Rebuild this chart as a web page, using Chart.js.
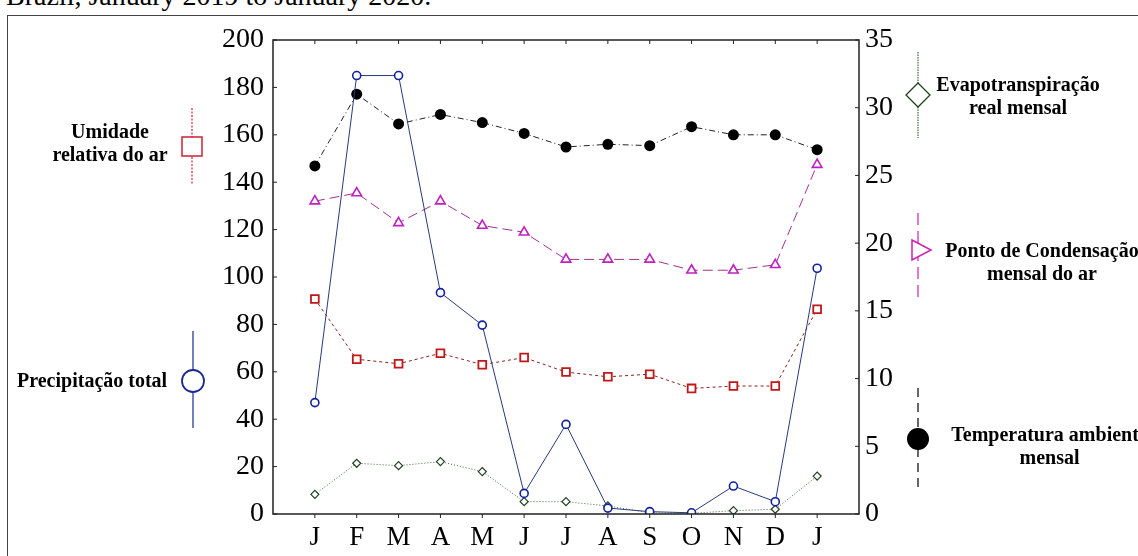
<!DOCTYPE html>
<html>
<head>
<meta charset="utf-8">
<script src="https://cdn.jsdelivr.net/npm/chart.js@4"></script>
<style>
  body { margin: 0; background: #fff; overflow: hidden; }
  #wrap { position: relative; width: 1138px; height: 556px; overflow: hidden; }
  #frame { position: absolute; left: 7px; top: 15px; width: 1200px; height: 600px; border: 1.5px solid #444; box-sizing: border-box; }
  #title { position: absolute; left: 6px; top: -20px; font: 28px "Liberation Serif", serif; color: #000; white-space: nowrap; }
  .leg { position: absolute; font: bold 20px "Liberation Serif", serif; color: #000; text-align: center; line-height: 23px; white-space: nowrap; }
  canvas { position: absolute; left: 0; top: 0; }
</style>
</head>
<body>
<div id="wrap">
  <div id="title">Brazil, January 2019 to January 2020.</div>
  <div id="frame"></div>
  <canvas id="grafico" width="1138" height="556"></canvas>
  <div class="leg" style="left:45px; top:120px; width:130px;">Umidade<br>relativa do ar</div>
  <div class="leg" style="left:17px; top:369px;">Precipitação total</div>
  <div class="leg" style="left:933px; top:73px; width:170px;">Evapotranspiração<br>real mensal</div>
  <div class="leg" style="left:937px; top:239px; width:210px;">Ponto de Condensação<br>mensal do ar</div>
  <div class="leg" style="left:937px; top:423px; width:225px;">Temperatura ambiente<br>mensal</div>
</div>
<script>
const meses = ['J', 'F', 'M', 'A', 'M', 'J', 'J', 'A', 'S', 'O', 'N', 'D', 'J'];
const precipitacao = [47, 185, 185, 93.4, 79.7, 8.7, 37.8, 2.5, 1, 0.5, 11.8, 5.2, 103.7];
const umidade = [90.7, 65.3, 63.4, 67.8, 63, 66, 59.9, 57.9, 59, 53, 54, 54, 86.4];
const evapotranspiracao = [8.3, 21.4, 20.4, 22.1, 17.9, 5.2, 5.2, 3.4, 0.5, 0.3, 1.4, 2, 16];
const temperatura = [25.7, 31.0, 28.8, 29.5, 28.9, 28.1, 27.1, 27.3, 27.2, 28.6, 28.0, 28.0, 26.9];
const pontoCondensacao = [23.1, 23.7, 21.5, 23.1, 21.3, 20.8, 18.8, 18.8, 18.8, 18.0, 18.0, 18.4, 25.8];
const ticksEsquerda = [0, 20, 40, 60, 80, 100, 120, 140, 160, 180, 200];
const ticksDireita = [0, 5, 10, 15, 20, 25, 30, 35];

const pontos = (arr) => arr.map((v, i) => ({ x: i + 1, y: v }));

// moldura do grafico, tracinhos internos e simbolos da legenda
const molduraPlugin = {
    id: 'moldura',
    afterDraw(chart) {
        const c = chart.ctx;
        const a = chart.chartArea;
        const sx = chart.scales.x, sy = chart.scales.y, sy2 = chart.scales.y2;
        c.save();
        c.strokeStyle = '#222';
        c.lineWidth = 1.5;
        c.strokeRect(a.left, a.top, a.right - a.left, a.bottom - a.top);
        c.lineWidth = 1;
        c.beginPath();
        meses.forEach((m, i) => {
            const x = sx.getPixelForValue(i + 1);
            c.moveTo(x, a.top); c.lineTo(x, a.top + 4);
            c.moveTo(x, a.bottom); c.lineTo(x, a.bottom + 4);
        });
        ticksEsquerda.forEach(v => {
            const y = sy.getPixelForValue(v);
            c.moveTo(a.left, y); c.lineTo(a.left + 4, y);
        });
        ticksDireita.forEach(v => {
            const y = sy2.getPixelForValue(v);
            c.moveTo(a.right, y); c.lineTo(a.right - 4, y);
        });
        c.stroke();

        // legenda: linha vertical + simbolo
        function linha(x, y1, y2, cor, dash) {
            c.beginPath();
            c.setLineDash(dash);
            c.strokeStyle = cor;
            c.lineWidth = 1.2;
            c.moveTo(x, y1); c.lineTo(x, y2);
            c.stroke();
            c.setLineDash([]);
        }
        c.fillStyle = '#fff';
        // umidade
        linha(192, 108, 184, '#d02030', [2, 1.5]);
        c.fillRect(182, 137, 20, 19);
        c.strokeStyle = '#d02030'; c.lineWidth = 1.5;
        c.strokeRect(182, 137, 20, 19);
        // precipitacao
        linha(193, 331, 428, '#1a2a90', []);
        c.beginPath(); c.arc(193, 381, 11, 0, Math.PI * 2);
        c.fillStyle = '#fff'; c.fill();
        c.strokeStyle = '#1a2a90'; c.lineWidth = 1.8; c.stroke();
        // evapotranspiracao
        linha(918, 52, 138, '#3a6a3a', [1.5, 1]);
        c.beginPath();
        c.moveTo(918, 83); c.lineTo(930, 95); c.lineTo(918, 107); c.lineTo(906, 95); c.closePath();
        c.fill(); c.strokeStyle = '#204020'; c.lineWidth = 1.3; c.stroke();
        // ponto de condensacao
        linha(918, 213, 302, '#d020b0', [12, 6]);
        c.beginPath();
        c.moveTo(912, 240); c.lineTo(931, 250); c.lineTo(912, 260); c.closePath();
        c.fillStyle = '#fff'; c.fill(); c.strokeStyle = '#d020b0'; c.lineWidth = 1.5; c.stroke();
        // temperatura
        linha(918, 388, 490, '#000', [9, 6]);
        c.beginPath(); c.arc(918, 439, 11, 0, Math.PI * 2);
        c.fillStyle = '#000'; c.fill();
        c.restore();
    }
};

const ctx = document.getElementById('grafico');
new Chart(ctx, {
    type: 'line',
    data: {
        datasets: [{
            label: 'Precipitação total',
            data: pontos(precipitacao),
            yAxisID: 'y',
            borderColor: '#2a3a7a',
            borderWidth: 1,
            pointStyle: 'circle',
            pointRadius: 4,
            pointBorderWidth: 1.6,
            pointBorderColor: '#1020a0',
            pointBackgroundColor: '#fff'
        },
        {
            label: 'Umidade relativa do ar',
            data: pontos(umidade),
            yAxisID: 'y',
            borderColor: '#8a2020',
            borderWidth: 1,
            borderDash: [3, 3],
            pointStyle: 'rect',
            pointRadius: 5.5,
            pointBorderWidth: 1.8,
            pointBorderColor: '#c01818',
            pointBackgroundColor: '#fff'
        },
        {
            label: 'Evapotranspiração real mensal',
            data: pontos(evapotranspiracao),
            yAxisID: 'y',
            borderColor: '#3a6a3a',
            borderWidth: 1,
            borderDash: [1, 2],
            pointStyle: 'rectRot',
            pointRadius: 4,
            pointBorderWidth: 1.2,
            pointBorderColor: '#204020',
            pointBackgroundColor: '#fff'
        },
        {
            label: 'Temperatura ambiente mensal',
            data: pontos(temperatura),
            yAxisID: 'y2',
            borderColor: '#222',
            borderWidth: 1,
            borderDash: [6, 3, 1, 3],
            pointStyle: 'circle',
            pointRadius: 5.5,
            pointBorderWidth: 0,
            pointBackgroundColor: '#000'
        },
        {
            label: 'Ponto de Condensação mensal do ar',
            data: pontos(pontoCondensacao),
            yAxisID: 'y2',
            borderColor: '#a03090',
            borderWidth: 1,
            borderDash: [10, 5],
            pointStyle: 'triangle',
            pointRadius: 5.5,
            pointBorderWidth: 1.6,
            pointBorderColor: '#c020c0',
            pointBackgroundColor: '#fff'
        }]
    },
    options: {
        responsive: false,
        animation: false,
        layout: { padding: { top: 40, left: 0, right: 0, bottom: 0 } },
        plugins: { legend: { display: false }, tooltip: { enabled: false } },
        elements: { line: { tension: 0 } },
        scales: {
            x: {
                type: 'linear',
                min: 0,
                max: 14,
                grid: { display: false, drawTicks: false },
                border: { display: false },
                afterBuildTicks: (s) => { s.ticks = meses.map((m, i) => ({ value: i + 1 })); },
                afterFit: (s) => { s.height = 42; },
                ticks: {
                    autoSkip: false,
                    maxRotation: 0,
                    padding: 8,
                    color: '#000',
                    font: { family: 'Liberation Serif', size: 27 },
                    callback: (v) => meses[v - 1] || ''
                }
            },
            y: {
                position: 'left',
                min: 0,
                max: 200,
                grid: { display: false, drawTicks: false },
                border: { display: false },
                afterFit: (s) => { s.width = 273; },
                ticks: {
                    stepSize: 20,
                    padding: 9,
                    color: '#000',
                    font: { family: 'Liberation Serif', size: 28 }
                }
            },
            y2: {
                position: 'right',
                min: 0,
                max: 35,
                grid: { display: false, drawTicks: false },
                border: { display: false },
                afterFit: (s) => { s.width = 279; },
                ticks: {
                    stepSize: 5,
                    padding: 6,
                    color: '#000',
                    font: { family: 'Liberation Serif', size: 28 }
                }
            }
        }
    },
    plugins: [molduraPlugin]
});
</script>
</body>
</html>
